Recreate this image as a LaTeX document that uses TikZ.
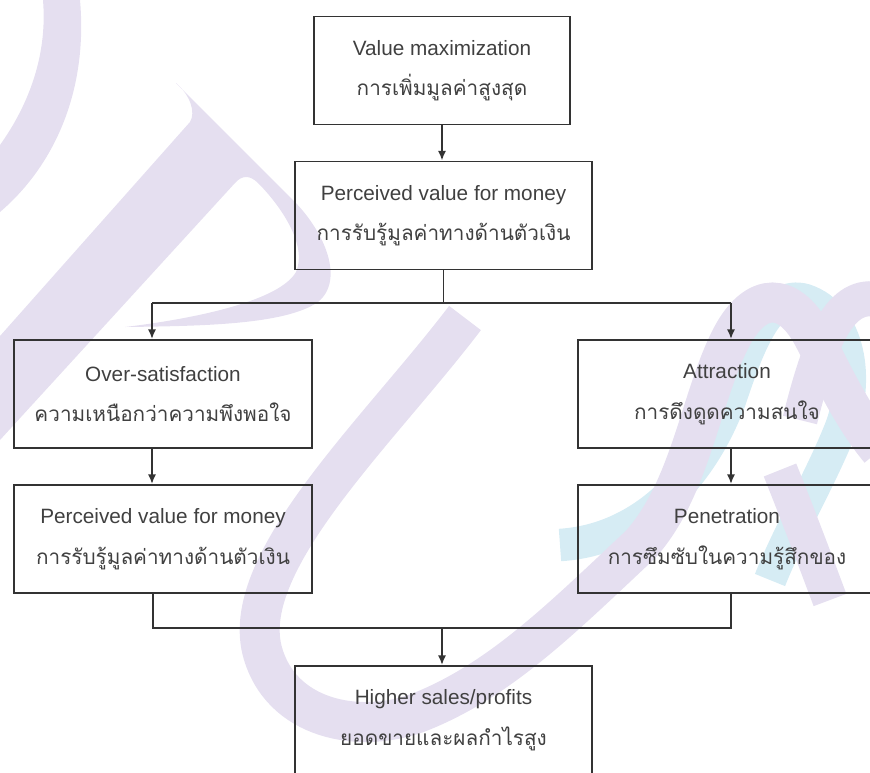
\documentclass[tikz,border=0pt]{standalone}
\usepackage{fontspec}
\setmainfont{Liberation Sans}
\newfontfamily\thaifont[Script=Thai]{Loma}
\usetikzlibrary{arrows.meta}
\definecolor{wmlav}{RGB}{229,223,240}
\definecolor{wmcyan}{RGB}{214,236,244}
\begin{document}
\begin{tikzpicture}[x=0.02cm,y=-0.02cm,
  flowbox/.style={draw=black!80, line width=1.1pt, inner sep=0pt, minimum height=2.16cm,
    align=center, text=black!75, font=\fontsize{11.8}{14}\selectfont},
  link/.style={draw=black!80, line width=1pt},
  arr/.style={link, -{Latex[length=5.5pt,width=4.6pt]}}]
\useasboundingbox (0,0) rectangle (870,772);
\clip (0,0) rectangle (870,772);
\fill[wmlav] (43,0) .. controls (48,60) and (25,110) .. (0,145) -- (0,212) .. controls (55,165) and (88,90) .. (80,0) -- cycle;
\fill[wmlav] (176,83) -- (293,200) .. controls (325,232) and (345,280) .. (318,302) .. controls (285,325) and (200,326) .. (125,327) .. controls (200,318) and (280,300) .. (296,272) .. controls (308,245) and (280,205) .. (258,183) .. controls (250,175) and (242,175) .. (235,183) -- (0,440) -- (0,336) -- (190,122) .. controls (196,112) and (190,95) .. cycle;
\draw[wmcyan, line width=0.65cm] (560,545) .. controls (640,540) and (700,480) .. (730,400) .. controls (750,340) and (770,290) .. (805,300) .. controls (850,315) and (860,380) .. (840,430) .. controls (820,480) and (790,530) .. (770,580);
\draw[wmlav, line width=0.8cm] (465,318) .. controls (380,430) and (240,560) .. (262,650) .. controls (280,720) and (360,735) .. (420,712) .. controls (500,680) and (560,620) .. (640,545) .. controls (690,490) and (700,400) .. (730,340) .. controls (755,290) and (790,290) .. (815,340) .. controls (835,380) and (855,420) .. (880,450);
\draw[wmlav, line width=0.7cm] (780,470) .. controls (800,520) and (815,560) .. (830,600);
\draw[wmlav, line width=0.7cm] (800,420) .. controls (820,340) and (840,290) .. (880,300);
\node[flowbox, minimum width=5.12cm] (valmax) at (442,70.5) {Value maximization\\[9pt]{\thaifont การเพิ่มมูลค่าสูงสุด}};
\node[flowbox, minimum width=5.94cm] (pvm) at (443.5,215.5) {Perceived value for money\\[9pt]{\thaifont การรับรู้มูลค่าทางด้านตัวเงิน}};
\node[flowbox, minimum width=5.96cm] (oversat) at (163,394) {Over-satisfaction\\[9pt]{\thaifont ความเหนือกว่าความพึงพอใจ}};
\node[flowbox, minimum width=5.96cm] (pvmleft) at (163,539) {Perceived value for money\\[9pt]{\thaifont การรับรู้มูลค่าทางด้านตัวเงิน}};
\node[flowbox, minimum width=5.96cm] (attract) at (727,394) {Attraction\\[9pt]{\thaifont การดึงดูดความสนใจ}};
\node[flowbox, minimum width=5.96cm] (penet) at (727,539) {Penetration\\[9pt]{\thaifont การซึมซับในความรู้สึกของ}};
\node[flowbox, minimum width=5.94cm] (sales) at (443.5,720) {Higher sales/profits\\[9pt]{\thaifont ยอดขายและผลกำไรสูง}};
\coordinate (tl) at (152,303);
\coordinate (tr) at (731,303);
\coordinate (bl) at (153,628);
\coordinate (br) at (731,628);
\coordinate (join) at (442,628);
\draw[arr] (valmax.south) -- (valmax.south |- pvm.north);
\draw[link] (pvm.south) -- (pvm.south |- tl);
\draw[link] (tl) -- (tr);
\draw[arr] (tl) -- (tl |- oversat.north);
\draw[arr] (tr) -- (tr |- attract.north);
\draw[arr] (oversat.south -| tl) -- (tl |- pvmleft.north);
\draw[arr] (attract.south -| tr) -- (tr |- penet.north);
\draw[link] (pvmleft.south -| bl) -- (bl) -- (br) -- (penet.south -| br);
\draw[arr] (join) -- (join |- sales.north);
\end{tikzpicture}
\end{document}
